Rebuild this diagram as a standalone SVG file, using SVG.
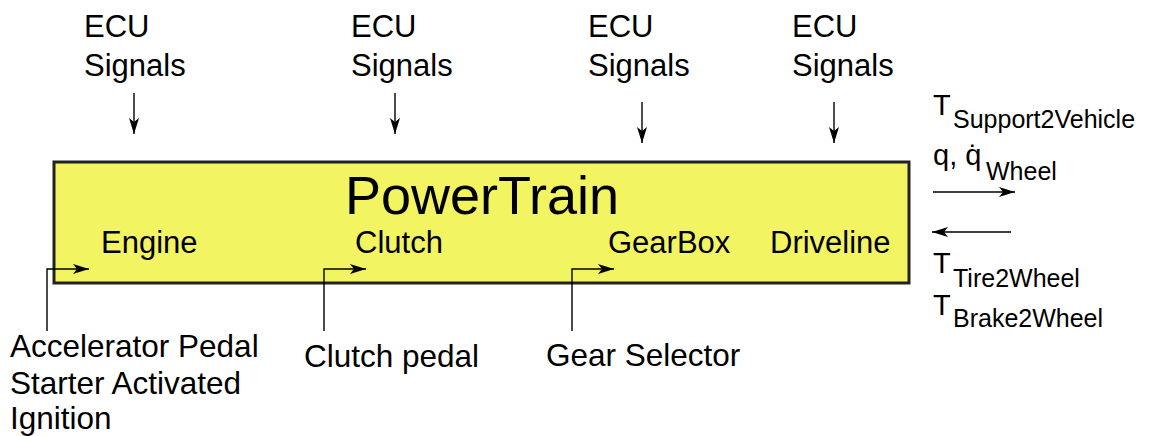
<svg xmlns="http://www.w3.org/2000/svg" width="1149" height="436" viewBox="0 0 1149 436">
<style>
text{font-family:"Liberation Sans",Arial,Helvetica,sans-serif;fill:#000}
.lbl{font-size:31px}
.big{font-size:31.5px}
.sub{font-size:25px}
.t{font-size:29px}
.ln{stroke:#000;stroke-width:1.4;fill:none}
</style>
<defs>
<marker id="ah" markerUnits="userSpaceOnUse" markerWidth="18" markerHeight="12" refX="16" refY="5" orient="auto">
<path d="M0,0 L16,5 L0,10 L4,5 z" fill="#000"/>
</marker>
</defs>
<rect width="1149" height="436" fill="#fff"/>
<g id="powertrain">
<rect x="54" y="162" width="855" height="121" fill="#f2f462" stroke="#222" stroke-width="3"/>
<text x="345" y="214" style="font-size:54px">PowerTrain</text>
</g>
<g id="engine"><text class="lbl" x="101" y="253">Engine</text></g>
<g id="clutch"><text class="lbl" x="355" y="253">Clutch</text></g>
<g id="gearbox"><text class="lbl" x="608" y="253">GearBox</text></g>
<g id="driveline"><text class="lbl" x="770" y="253">Driveline</text></g>
<g id="ecu1"><text class="lbl" x="84" y="37">ECU</text><text class="lbl" x="84" y="76">Signals</text></g>
<g id="ecu2"><text class="lbl" x="351" y="37">ECU</text><text class="lbl" x="351" y="76">Signals</text></g>
<g id="ecu3"><text class="lbl" x="588" y="37">ECU</text><text class="lbl" x="588" y="76">Signals</text></g>
<g id="ecu4"><text class="lbl" x="792" y="37">ECU</text><text class="lbl" x="792" y="76">Signals</text></g>
<g id="engine-inputs">
<text class="big" x="10" y="357">Accelerator Pedal</text>
<text class="big" x="10" y="394">Starter Activated</text>
<text class="big" x="10" y="429">Ignition</text>
</g>
<g id="clutch-input"><text class="big" x="304" y="367">Clutch pedal</text></g>
<g id="gear-input"><text class="big" x="546" y="366">Gear Selector</text></g>
<g id="outputs">
<text class="t" x="933" y="115">T</text><text class="sub" x="953" y="128">Support2Vehicle</text>
<text class="t" x="933" y="165">q, q&#775;</text><text class="sub" x="986" y="180">Wheel</text>
</g>
<g id="inputs">
<text class="t" x="933" y="273">T</text><text class="sub" x="953" y="287">Tire2Wheel</text>
<text class="t" x="933" y="315">T</text><text class="sub" x="953" y="327">Brake2Wheel</text>
</g>
<g id="connectors">
<path class="ln" d="M134,93 V134" marker-end="url(#ah)"/>
<path class="ln" d="M395,93 V134" marker-end="url(#ah)"/>
<path class="ln" d="M642,102 V143" marker-end="url(#ah)"/>
<path class="ln" d="M834,102 V143" marker-end="url(#ah)"/>
<path class="ln" d="M47,331 V269 H89" marker-end="url(#ah)"/>
<path class="ln" d="M324,331 V269 H366" marker-end="url(#ah)"/>
<path class="ln" d="M572,331 V269 H614" marker-end="url(#ah)"/>
<path class="ln" d="M933,192 H1015" marker-end="url(#ah)"/>
<path class="ln" d="M1011,232 H932" marker-end="url(#ah)"/>
</g>
</svg>
